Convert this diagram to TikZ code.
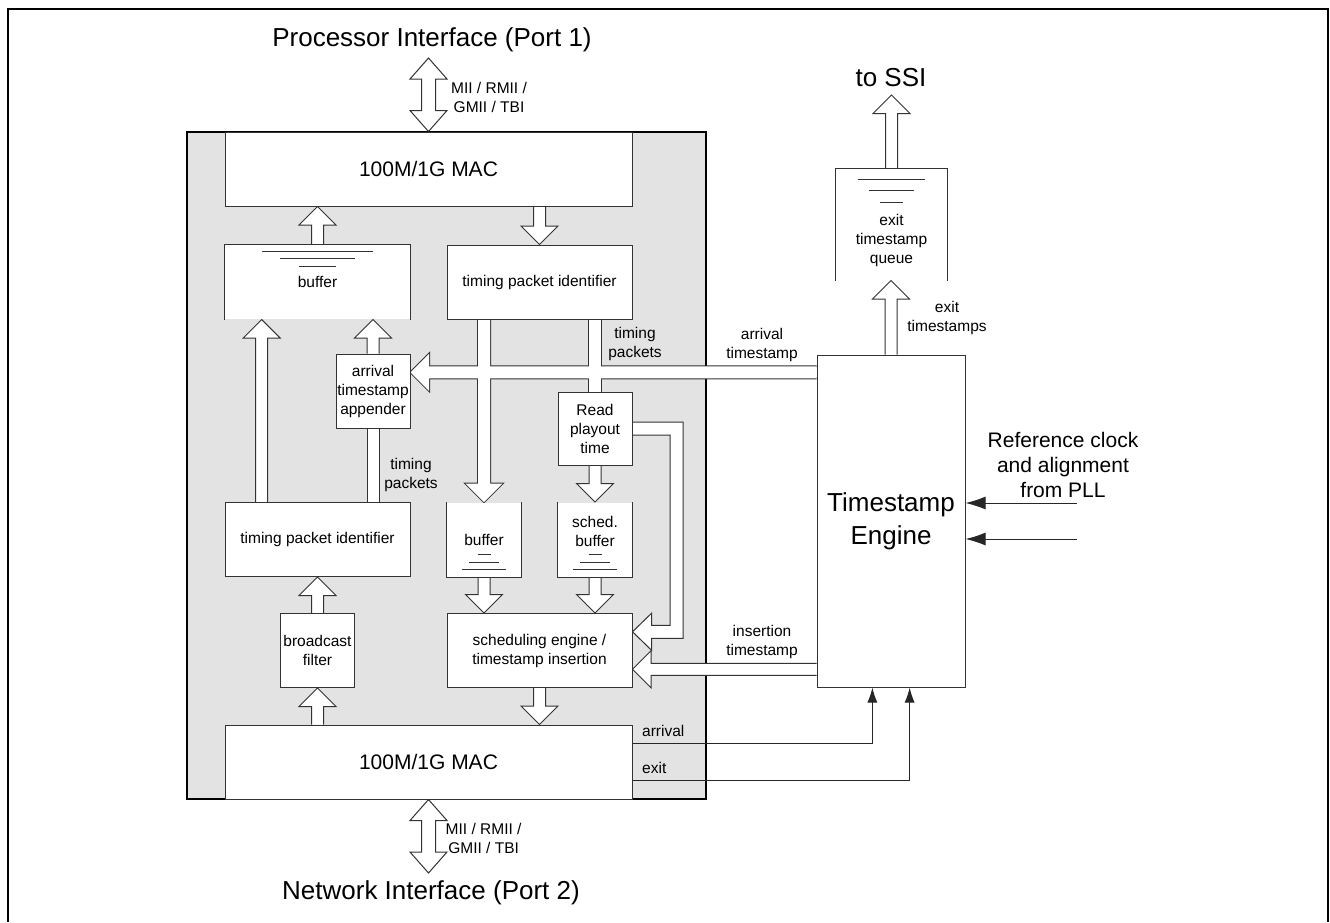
\documentclass[tikz,border=0pt]{standalone}
\usepackage{fontspec}
\setmainfont{Liberation Sans}
\usetikzlibrary{arrows.meta,calc,positioning,backgrounds}
\pgfdeclarelayer{chip}
\pgfdeclarelayer{arrows}
\pgfsetlayers{chip,arrows,main}

% hollow block arrow: tail, tip
\newcommand{\fatarrow}[3][]{%
  \coordinate (fatT) at #2; \coordinate (fatH) at #3;
  \coordinate (fatB) at ($(fatH)!18.5pt!(fatT)$);
  \path[fat,#1] ($(fatT)!6pt!90:(fatH)$) -- ($(fatB)!6pt!90:(fatH)$) -- ($(fatB)!18.5pt!90:(fatH)$)
    -- (fatH) -- ($(fatB)!18.5pt!-90:(fatH)$) -- ($(fatB)!6pt!-90:(fatH)$) -- ($(fatT)!6pt!-90:(fatH)$);}
% hollow bar without head
\newcommand{\fatshaft}[3][]{%
  \coordinate (fatT) at #2; \coordinate (fatH) at #3;
  \path[fat,#1,draw=none] ($(fatT)!6pt!90:(fatH)$) -- ($(fatH)!6pt!-90:(fatT)$)
    -- ($(fatH)!6pt!90:(fatT)$) -- ($(fatT)!6pt!-90:(fatH)$) -- cycle;
  \path[fat,#1,fill=none] ($(fatT)!6pt!90:(fatH)$) -- ($(fatH)!6pt!-90:(fatT)$)
    ($(fatH)!6pt!90:(fatT)$) -- ($(fatT)!6pt!-90:(fatH)$);}
% hollow arrow with two heads
\newcommand{\fatboth}[3][]{%
  \coordinate (fatT) at #2; \coordinate (fatH) at #3;
  \coordinate (fatA) at ($(fatT)!21pt!(fatH)$); \coordinate (fatB) at ($(fatH)!21pt!(fatT)$);
  \path[fat,#1] (fatT) -- ($(fatA)!18.5pt!90:(fatH)$) -- ($(fatA)!7pt!90:(fatH)$) -- ($(fatB)!7pt!90:(fatH)$)
    -- ($(fatB)!18.5pt!90:(fatH)$) -- (fatH) -- ($(fatB)!18.5pt!-90:(fatH)$) -- ($(fatB)!7pt!-90:(fatH)$)
    -- ($(fatA)!7pt!-90:(fatH)$) -- ($(fatA)!18.5pt!-90:(fatH)$) -- cycle;}

\begin{document}
\begin{tikzpicture}[x=1pt,y=-1pt]
	\tikzstyle{every node}=[font=\fontsize{15.5}{19}\selectfont, inner sep=0pt, align=center]
	\tikzstyle{box}=[draw=black!80, line width=1pt, fill=white, minimum width=74pt, minimum height=74pt]
	\tikzstyle{widebox}=[box, minimum width=185pt]
	\tikzstyle{macbox}=[box, minimum width=407pt, font=\fontsize{21}{25}\selectfont]
	\tikzstyle{fat}=[draw=black!80, line width=1pt, fill=white, line join=miter]
	\tikzstyle{level}=[draw=black!80, line width=1pt]
	\tikzstyle{big}=[font=\fontsize{26}{33}\selectfont]
	\tikzstyle{sig}=[draw=black!85, line width=1pt, -{Latex[length=15pt,width=10pt]}]
	\tikzstyle{clk}=[draw=black!85, line width=1pt, -{Latex[length=20pt,width=13pt]}]

	\useasboundingbox (0,0) rectangle (1330,922);
	\draw[line width=2pt] (8,922) -- (8,9) -- (1328,9) -- (1328,922);

	\begin{pgfonlayer}{chip}
	\node[draw=black, line width=2.5pt, fill=black!11, minimum width=519pt, minimum height=667pt](chip) at (446.5,465.5){};
	\end{pgfonlayer}

	% blocks
	\node[macbox](mactop) at (428.5,169){100M/1G MAC};
	\node[macbox](macbot) at (428.5,762){100M/1G MAC};
	\node[widebox, draw=none](bufup) at (317.5,282){buffer};
	\node[widebox](tpiup) at (539.5,282){timing packet identifier};
	\node[box](app) at (373,391){arrival\\timestamp\\appender};
	\node[box, minimum height=73pt](read) at (595,428.5){Read\\playout\\time};
	\node[widebox](tpilow) at (317.5,539.5){timing packet identifier};
	\node[box, draw=none](buflow) at (484,539.5){buffer};
	\node[box, draw=none](sbuf) at (595,539.5){};
	\node[box](filter) at (317.5,650.5){broadcast\\filter};
	\node[widebox](sched) at (539.5,650.5){scheduling engine /\\timestamp insertion};
	\node[box, draw=none, minimum width=111pt, minimum height=111pt](queue) at (891.5,224.5){};
	\node[box, big, minimum width=148pt, minimum height=332pt](te) at (891,521){Timestamp\\Engine};

	\node(sbuftxt) at ($(sbuf)+(0,-8.5)$){sched.\\buffer};
	\node(queuetxt) at ($(queue)+(0,15.5)$){exit\\timestamp\\queue};

	% queue outlines
	\draw[level] (bufup.south west) -- (bufup.north west) -- (bufup.north east) -- (bufup.south east);
	\draw[level] (queue.south west) -- (queue.north west) -- (queue.north east) -- (queue.south east);
	\draw[level] (buflow.north west) -- (buflow.south west) -- (buflow.south east) -- (buflow.north east);
	\draw[level] (sbuf.north west) -- (sbuf.south west) -- (sbuf.south east) -- (sbuf.north east);
	\foreach \dy/\w in {7/55.5, 14/37.5, 22/18.5}
		\draw[level] ($(bufup.north)+(-\w,\dy)$) -- ($(bufup.north)+(\w,\dy)$);
	\foreach \dy/\w in {11/33.5, 22/22.5, 34/11.5}
		\draw[level] ($(queue.north)+(-\w,\dy)$) -- ($(queue.north)+(\w,\dy)$);
	\foreach \n in {buflow, sbuf}
		\foreach \dy/\w in {23/6.5, 15/15, 8/22}
			\draw[level] ($(\n.south)+(-\w,-\dy)$) -- ($(\n.south)+(\w,-\dy)$);

	% texts
	\node[big](proc) at (432,40){Processor Interface (Port 1)};
	\node[big](net) at (431,893){Network Interface (Port 2)};
	\node[big](ssi) at (891,78){to SSI};
	\node(mii1) at (489,97.5){MII / RMII /\\GMII / TBI};
	\node(mii2) at (483.6,838){MII / RMII /\\GMII / TBI};
	\node(tp1) at (635,344){timing\\packets};
	\node(tp2) at (411,475){timing\\packets};
	\node(arrts) at (762,345){arrival\\timestamp};
	\node(insts) at (762,642){insertion\\timestamp};
	\node(exts) at (947,317.5){exit\\timestamps};
	\node[anchor=west](arrl) at (642,731){arrival};
	\node[anchor=west](exl) at (642,768){exit};
	\node[font=\fontsize{21}{25}\selectfont](refl) at (1063,465){Reference clock\\and alignment\\from PLL};

	% end points
	\coordinate(port1) at (428.5,58);
	\coordinate(port2) at (428.5,873);
	\coordinate(tossi) at (891.5,95);
	\coordinate(t1) at ($(tpilow.north west)!0.2!(tpilow.north east)$);
	\coordinate(ta) at ($(app.north east)!0.25!(app.south east)$);
	\coordinate(tb) at ($(sched.north east)!0.25!(sched.south east)$);
	\coordinate(tc) at ($(sched.north east)!0.75!(sched.south east)$);
	\coordinate(rbend) at (676.5,428.5);
	\coordinate(ref1) at (1077,503);
	\coordinate(ref2) at (1077,539);

	\begin{pgfonlayer}{arrows}
	\fatboth{(port1)}{(mactop.north)}
	\fatboth{(macbot.south)}{(port2)}
	\fatarrow{(bufup.north)}{(bufup.north |- mactop.south)}
	\fatarrow{(tpiup.north |- mactop.south)}{(tpiup.north)}
	\fatarrow{(t1)}{(t1 |- bufup.south)}
	\fatshaft{(app.south |- tpilow.north)}{(app.south)}
	\fatarrow{(app.north)}{(app.north |- bufup.south)}
	\fatarrow{(read.south)}{(sbuf.north)}
	\fatarrow{(buflow.south)}{(buflow.south |- sched.north)}
	\fatarrow{(sbuf.south)}{(sbuf.south |- sched.north)}
	\fatarrow{(filter.north)}{(filter.north |- tpilow.south)}
	\fatarrow{(filter.south |- macbot.north)}{(filter.south)}
	\fatarrow{(sched.south)}{(sched.south |- macbot.north)}
	\fatarrow{(te.north)}{(te.north |- queue.south)}
	\fatarrow{(queue.north)}{(tossi)}
	% crossing bars merge
	\fatarrow[fill=none, line width=2pt]{(buflow.north |- tpiup.south)}{(buflow.north)}
	\fatshaft[fill=none, line width=2pt]{(read.north |- tpiup.south)}{(read.north)}
	\fatarrow[fill=none, line width=2pt]{(te.west |- ta)}{(ta)}
	\fatarrow[draw=none]{(buflow.north |- tpiup.south)}{(buflow.north)}
	\fatshaft[draw=none]{(read.north |- tpiup.south)}{(read.north)}
	\fatarrow[draw=none]{(te.west |- ta)}{(ta)}
	% playout time to scheduler
	\path[fat] let \p1=(read.east), \p2=(tb), \p3=(rbend) in
		(\x1,{\y1+6.5pt}) -- ({\x3+6.5pt},{\y1+6.5pt}) -- ({\x3+6.5pt},{\y2-6.5pt}) -- ({\x2+19pt},{\y2-6.5pt})
		-- ({\x2+19pt},{\y2-18.5pt}) -- (\p2) -- ({\x2+19pt},{\y2+18.5pt}) -- ({\x2+19pt},{\y2+6.5pt})
		-- ({\x3-6.5pt},{\y2+6.5pt}) -- ({\x3-6.5pt},{\y1-6.5pt}) -- (\x1,{\y1-6.5pt});
	\fatarrow{(te.west |- tc)}{(tc)}
	\end{pgfonlayer}

	% timing signals
	\draw[sig] ($(macbot.north east)!0.25!(macbot.south east)$) -| ($(te.south west)!0.375!(te.south east)$);
	\draw[sig] ($(macbot.north east)!0.75!(macbot.south east)$) -| ($(te.south west)!0.625!(te.south east)$);
	\draw[clk] (ref1) -- (ref1 -| te.east);
	\draw[clk] (ref2) -- (ref2 -| te.east);
\end{tikzpicture}
\end{document}
